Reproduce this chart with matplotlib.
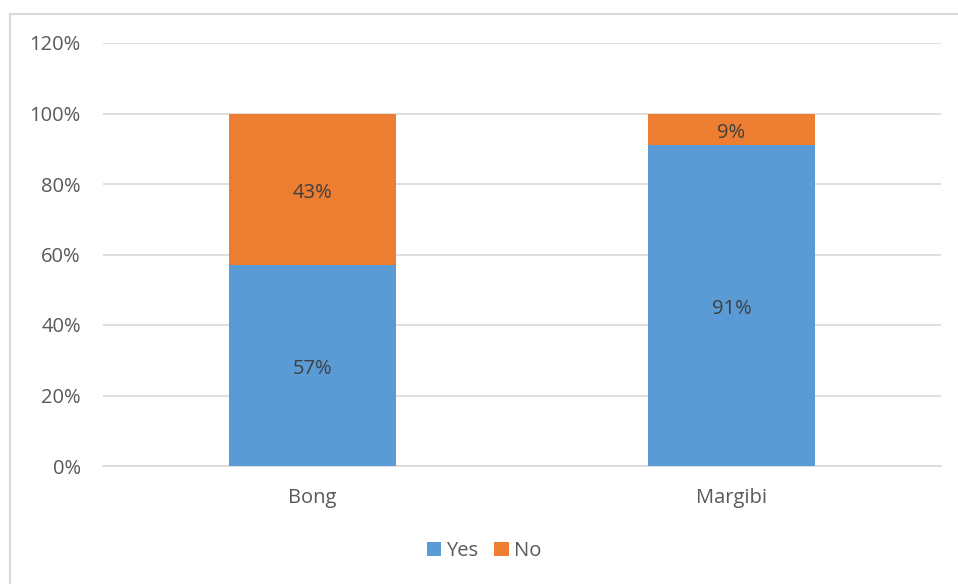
import numpy as np
import matplotlib.pyplot as plt
from matplotlib.patches import Rectangle

plt.rcParams['font.family'] = ['Open Sans', 'DejaVu Sans']

regions = ["Bong", "Margibi"]
yes_pct = [57, 91]
no_pct = [43, 9]
yticks = [0, 20, 40, 60, 80, 100, 120]

blue = "#5B9BD5"
orange = "#ED7D31"
grid_c = "#D9D9D9"
text_c = "#595959"
fs = 14.5

fig = plt.figure(figsize=(9.58, 5.84), dpi=100)
# outer chart frame
fig.patches.append(Rectangle((10 / 958, -0.01), 1.0, 1 - 14 / 584 + 0.01,
                             transform=fig.transFigure, fill=False,
                             edgecolor="#D9D9D9", linewidth=1.5))

ax = fig.add_axes([103 / 958, 1 - 466 / 584, 838 / 958, 423 / 584])
x = np.arange(len(regions))
w = 0.4
b1 = ax.bar(x, yes_pct, w, color=blue, label="Yes", zorder=3)
b2 = ax.bar(x, no_pct, w, bottom=yes_pct, color=orange, label="No", zorder=3)

# value labels sit a touch below the segment middle
for xi, y, n in zip(x, yes_pct, no_pct):
    ax.text(xi, y / 2 - 1, f"{y}%", ha="center", va="center", fontsize=fs, color="#404040", zorder=4)
    ax.text(xi, y + n / 2 - 1, f"{n}%", ha="center", va="center", fontsize=fs, color="#404040", zorder=4)

ax.set_xlim(-0.5, 1.5)
ax.set_ylim(0, 120)
ax.set_yticks(yticks)
ax.set_yticklabels([f"{t}%" for t in yticks])
ax.set_xticks(x)
ax.set_xticklabels(regions)
ax.yaxis.grid(True, color=grid_c, linewidth=1.2, zorder=0)
ax.tick_params(axis="both", length=0, labelsize=fs, colors=text_c)
ax.tick_params(axis="y", pad=16)
ax.tick_params(axis="x", pad=16)
for side in ["top", "right", "left"]:
    ax.spines[side].set_visible(False)
ax.spines["bottom"].set_color(grid_c)
ax.spines["bottom"].set_linewidth(1.2)

leg = fig.legend(handles=[b1, b2], labels=["Yes", "No"], loc="center",
                 bbox_to_anchor=(484 / 958, 1 - 551 / 584), ncol=2, frameon=False,
                 fontsize=fs, handlelength=0.7, handleheight=0.7,
                 handletextpad=0.25, columnspacing=0.8)
for t in leg.get_texts():
    t.set_color(text_c)

fig.savefig("out.png", dpi=100)
